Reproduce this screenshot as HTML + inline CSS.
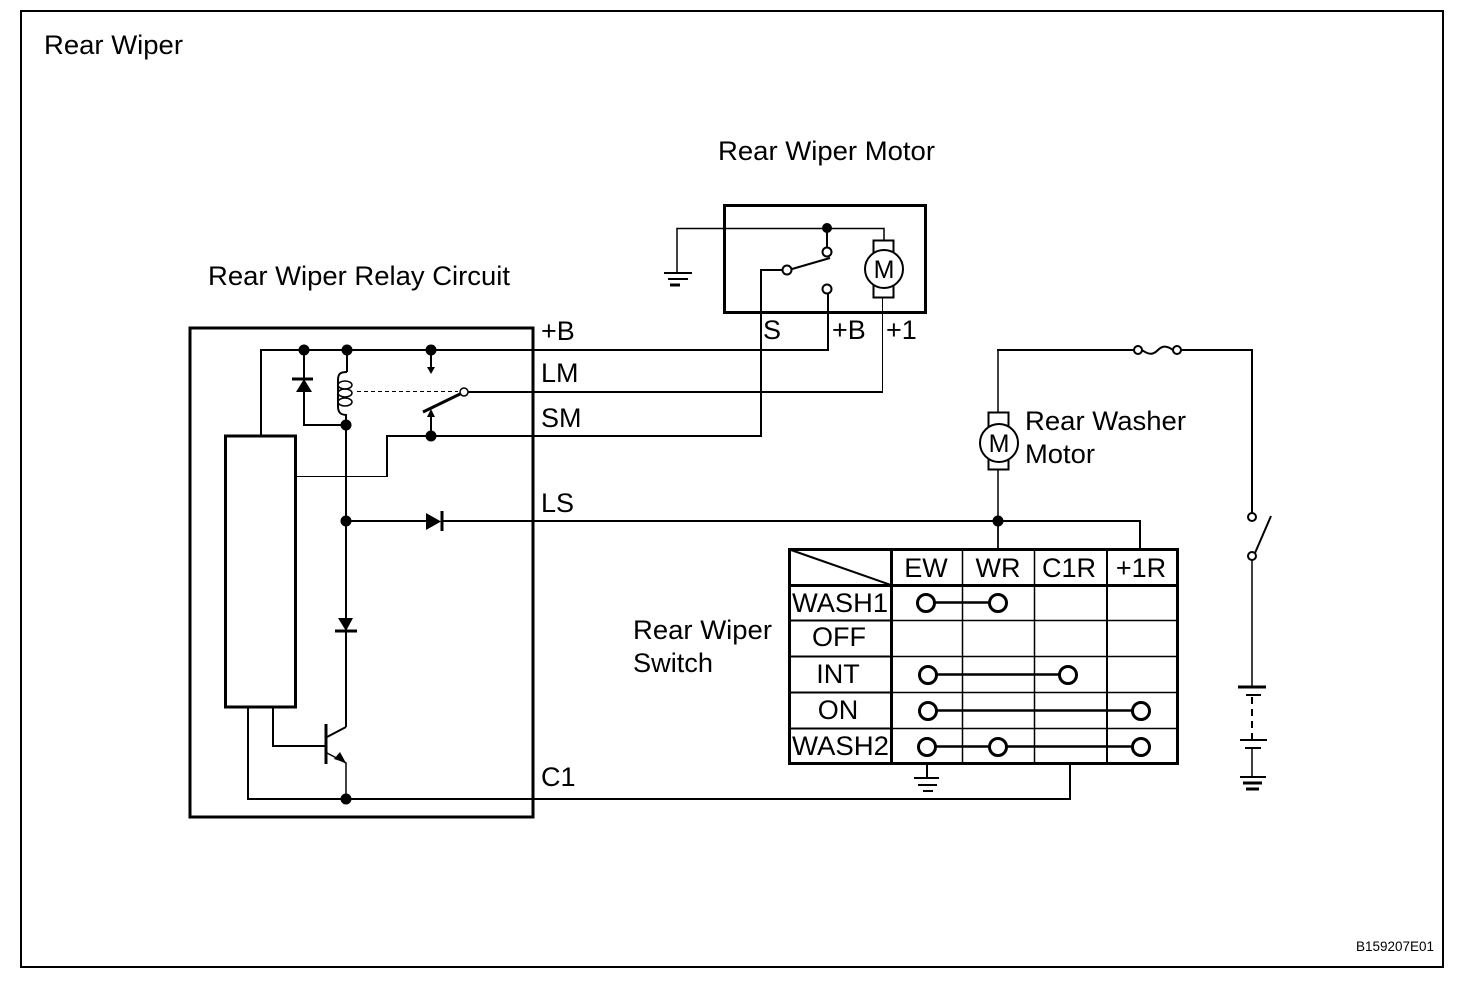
<!DOCTYPE html>
<html><head><meta charset="utf-8"><style>
html,body{margin:0;padding:0;background:#fff}
svg{display:block}
text{font-family:"Liberation Sans",Arial,sans-serif;font-size:27px;fill:#000}
.a{text-anchor:middle}
</style></head><body>
<svg width="1472" height="988" viewBox="0 0 1472 988" xmlns="http://www.w3.org/2000/svg">
<rect width="1472" height="988" fill="#fff"/>
<g fill="none" stroke="#000" stroke-width="2">
<rect x="21" y="11" width="1422" height="956"/>
<rect x="190" y="328" width="343" height="489" stroke-width="3"/>
<rect x="225.500" y="436" width="70" height="271" stroke-width="3"/>
<rect x="724.500" y="205.500" width="201" height="107" stroke-width="3"/>
<!-- wires -->
<path d="M261 436V350H828V293"/>
<path d="M882.500 392V298" stroke-width="1"/>
<path d="M468 392H883"/>
<path d="M387 477V436H761V270H782"/>
<path d="M296 476.500H387" stroke-width="1"/>
<path d="M304 350V425H346"/>
<path d="M347 350V372M346 415V727"/>
<path d="M346 521H426M442 521H1140V549"/>
<path d="M248 707V799H1070V764"/>
<path d="M273 707V746H326"/>
<path d="M346 727L327 737M346 727V631"/>
<path d="M327 753L346 763V799" stroke-width="1.500"/>
<path d="M431 350V367M431 417V436"/>
<!-- coil -->
<path d="M347 372C340 372 338 374 338 380V406C338 412 340 415 347 415"/>
<ellipse cx="345" cy="385" rx="7" ry="4" stroke-width="1.500"/>
<ellipse cx="345" cy="393" rx="7" ry="4" stroke-width="1.500"/>
<ellipse cx="345" cy="402" rx="7" ry="4" stroke-width="1.500"/>
<path d="M357 391.500H458" stroke-width="1" stroke-dasharray="4 3"/>
<path d="M423 412L460 394" stroke-width="3"/>
<circle cx="464" cy="392" r="4" fill="#fff" stroke-width="1.500"/>
<!-- relay diode bars -->
<path d="M292 379H313" stroke-width="3"/>
<path d="M442 511V531" stroke-width="3"/>
<path d="M335 631H357" stroke-width="3"/>
<path d="M326 724V764" stroke-width="3"/>
<!-- rear wiper motor -->
<path d="M664 273H692M668 279H688" stroke-width="2"/>
<path d="M670 285H680" stroke-width="3"/>
<path d="M677 272V228.500H884V240" stroke-width="1.500"/>
<path d="M827 228V247"/>
<path d="M792 269L830 258"/>
<circle cx="827" cy="252" r="4.500" fill="#fff"/>
<circle cx="787" cy="270" r="4.500" fill="#fff"/>
<circle cx="827" cy="289" r="4.500" fill="#fff"/>
<rect x="873.500" y="240.500" width="20" height="57"/>
<circle cx="884" cy="269" r="19" fill="#fff"/>
<!-- washer motor -->
<path d="M998 412V350" stroke-width="1.500"/>
<path d="M997 350H1134M1181 350H1252V513"/>
<path d="M998 470V549" stroke-width="1.500"/>
<rect x="988.500" y="412.500" width="20" height="57"/>
<circle cx="999" cy="443" r="19" fill="#fff"/>
<circle cx="1138" cy="350" r="4" fill="#fff"/>
<circle cx="1177" cy="350" r="4" fill="#fff"/>
<path d="M1142 350C1150 356 1154 354 1158 350C1162 346 1166 345 1173 350"/>
<!-- external switch & battery -->
<circle cx="1252" cy="517" r="4"/>
<path d="M1271 516L1255 553"/>
<circle cx="1252" cy="556" r="4" fill="#fff"/>
<path d="M1252 560V687" stroke-width="1.500"/>
<path d="M1238 687H1266" stroke-width="3"/>
<path d="M1246 695H1261"/>
<path d="M1252 697V740" stroke-dasharray="7 5"/>
<path d="M1240 740H1267"/>
<path d="M1245 748H1261"/>
<path d="M1252 748V777" stroke-width="1.500"/>
<path d="M1240 777H1266"/>
<path d="M1243 783H1262" stroke-width="3"/>
<path d="M1246 789H1259" stroke-width="3"/>
<!-- table -->
<path d="M962.500 550V763M1034.500 550V763" stroke-width="1.500"/>
<path d="M892 620.500H1177M892 656.500H1177M892 692.500H1177M892 728.500H1177" stroke-width="1.500"/>
<path d="M790 620.500H892M790 656.500H892M790 692.500H892M790 728.500H892"/>
<path d="M1107 550V763" stroke-width="2"/>
<rect x="789.500" y="549.500" width="388" height="214" stroke-width="3"/>
<path d="M891.500 549V764M789 585.500H1178" stroke-width="3"/>
<path d="M791 550L891 585"/>
<path d="M998 549V521" stroke-width="1.500"/>
<path d="M927 764V778"/>
<path d="M914 778H939M918 785H937M923 791H933"/>
<g stroke-width="2.500">
<path d="M926 602.500H998"/>
<path d="M928 674.500H1068"/>
<path d="M928 710.500H1141"/>
<path d="M927 746.500H1141"/>
<g fill="#fff" stroke-width="3">
<circle cx="926" cy="603" r="8.500"/><circle cx="998" cy="603" r="8.500"/>
<circle cx="928" cy="675" r="8.500"/><circle cx="1068" cy="675" r="8.500"/>
<circle cx="928" cy="711" r="8.500"/><circle cx="1141" cy="711" r="8.500"/>
<circle cx="927" cy="747" r="8.500"/><circle cx="998" cy="747" r="8.500"/><circle cx="1141" cy="747" r="8.500"/>
</g></g>
</g>
<!-- filled -->
<g fill="#000">
<circle cx="304" cy="350" r="5.500"/><circle cx="347" cy="350" r="5.500"/><circle cx="431" cy="350" r="5.500"/>
<circle cx="346" cy="425" r="5.500"/><circle cx="431" cy="436" r="5.500"/><circle cx="346" cy="521" r="5.500"/>
<circle cx="346" cy="799" r="5.500"/><circle cx="998" cy="521" r="5.500"/><circle cx="827" cy="228" r="5"/>
<path d="M304 379L296 392H312Z"/>
<path d="M426 513V530L441 521.500Z"/>
<path d="M338 618H353L346 631Z"/>
<path d="M427 367H435L431 374Z"/>
<path d="M427 417H435L431 409Z"/>
<path d="M334 759L346 763L340 752Z"/>
</g>
<text x="44" y="54" textLength="139" lengthAdjust="spacingAndGlyphs">Rear Wiper</text>
<text x="718" y="160" textLength="217" lengthAdjust="spacingAndGlyphs">Rear Wiper Motor</text>
<text x="208" y="285" textLength="302" lengthAdjust="spacingAndGlyphs">Rear Wiper Relay Circuit</text>
<text x="541" y="340">+B</text>
<text x="541" y="382">LM</text>
<text x="541" y="427">SM</text>
<text x="541" y="512">LS</text>
<text x="541" y="786">C1</text>
<text x="763" y="339">S</text>
<text x="832" y="339">+B</text>
<text x="886" y="339">+1</text>
<text x="1025" y="430" textLength="161" lengthAdjust="spacingAndGlyphs">Rear Washer</text>
<text x="1025" y="463" textLength="70" lengthAdjust="spacingAndGlyphs">Motor</text>
<text x="633" y="639" textLength="139" lengthAdjust="spacingAndGlyphs">Rear Wiper</text>
<text x="633" y="672" textLength="80" lengthAdjust="spacingAndGlyphs">Switch</text>
<text class="a" x="884" y="278" style="font-size:25px">M</text>
<text class="a" x="999" y="452" style="font-size:25px">M</text>
<text class="a" x="926" y="577">EW</text>
<text class="a" x="998" y="577">WR</text>
<text class="a" x="1069" y="577">C1R</text>
<text class="a" x="1141" y="577">+1R</text>
<text x="792" y="612" textLength="96" lengthAdjust="spacingAndGlyphs">WASH1</text>
<text class="a" x="839" y="646">OFF</text>
<text class="a" x="838" y="683">INT</text>
<text class="a" x="838" y="719">ON</text>
<text x="792" y="755" textLength="97" lengthAdjust="spacingAndGlyphs">WASH2</text>
<text x="1356" y="951" textLength="78" lengthAdjust="spacingAndGlyphs" style="font-size:14px">B159207E01</text>
</svg>
</body></html>
